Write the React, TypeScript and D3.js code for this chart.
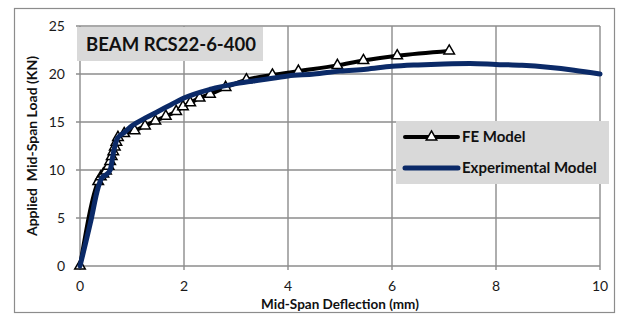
import React, { useEffect, useRef } from "react";
import * as d3 from "d3";

// FE model (black line with open triangle markers)
const feX = [0, 0.35, 0.4, 0.45, 0.5, 0.55, 0.58, 0.61, 0.64, 0.67, 0.7, 0.73, 0.85, 1.05, 1.25, 1.45, 1.65, 1.85, 1.98, 2.12, 2.3, 2.5, 2.8, 3.2, 3.7, 4.2, 4.95, 5.45, 6.1, 7.1];
const feY = [0, 8.8, 9.3, 9.6, 9.9, 10.4, 10.9, 11.4, 11.9, 12.4, 12.9, 13.4, 13.8, 14.1, 14.6, 15.1, 15.6, 16.1, 16.6, 17.0, 17.5, 17.9, 18.6, 19.4, 19.9, 20.3, 20.9, 21.4, 21.9, 22.4];

// Experimental model (navy smooth line)
const expX = [0, 0.2, 0.35, 0.42, 0.5, 0.58, 0.65, 0.72, 0.85, 1.0, 1.25, 1.5, 1.75, 2.0, 2.5, 3.0, 3.5, 4.0, 4.5, 5.0, 5.5, 6.0, 6.5, 7.0, 7.5, 8.0, 8.5, 9.0, 9.5, 10];
const expY = [0, 4.5, 8.2, 9.2, 9.5, 10.0, 12.0, 13.3, 13.9, 14.6, 15.4, 16.1, 16.8, 17.5, 18.4, 19.0, 19.4, 19.8, 20.0, 20.3, 20.5, 20.8, 20.95, 21.05, 21.1, 21.0, 20.9, 20.7, 20.4, 20.0];

const xTicks = [0, 2, 4, 6, 8, 10];
const yTicks = [0, 5, 10, 15, 20, 25];

const chartTitle = "BEAM RCS22-6-400";
const legendLabels = ["FE Model", "Experimental Model"];

const FONT = "Lato, 'Open Sans', sans-serif";
const NAVY = "#0b2a68";

const App: React.FC = () => {
  const svgRef = useRef<SVGSVGElement | null>(null);

  useEffect(() => {
    if (!svgRef.current) return;
    const width = 626;
    const height = 314;
    const margin = { top: 26, right: 26, bottom: 48, left: 80 };

    const root = d3.select(svgRef.current);
    root.selectAll("*").remove();
    root.attr("width", width).attr("height", height);

    // outer chart border
    root
      .append("rect")
      .attr("x", 14.5)
      .attr("y", 8.5)
      .attr("width", 600)
      .attr("height", 304)
      .attr("fill", "white")
      .attr("stroke", "#8c8c8c")
      .attr("stroke-width", 1.2);

    const xScale = d3.scaleLinear().domain([0, 10]).range([margin.left, width - margin.right]);
    const yScale = d3.scaleLinear().domain([0, 25]).range([height - margin.bottom, margin.top]);

    const g = root.append("g");

    // gridlines
    g.selectAll(".vgrid")
      .data(xTicks)
      .enter()
      .append("line")
      .attr("x1", (d) => xScale(d))
      .attr("x2", (d) => xScale(d))
      .attr("y1", yScale(25))
      .attr("y2", yScale(0) + 4)
      .attr("stroke", "#8c8c8c")
      .attr("stroke-width", 1.4);

    g.selectAll(".hgrid")
      .data(yTicks)
      .enter()
      .append("line")
      .attr("x1", xScale(0) - 4)
      .attr("x2", xScale(10))
      .attr("y1", (d) => yScale(d))
      .attr("y2", (d) => yScale(d))
      .attr("stroke", "#8c8c8c")
      .attr("stroke-width", 1.4);

    // tick labels
    g.selectAll(".xlab")
      .data(xTicks)
      .enter()
      .append("text")
      .attr("x", (d) => xScale(d))
      .attr("y", yScale(0) + 25)
      .attr("text-anchor", "middle")
      .attr("font-family", FONT)
      .attr("font-size", 14)
      .attr("fill", "#1a1a1a")
      .text((d) => d);

    g.selectAll(".ylab")
      .data(yTicks)
      .enter()
      .append("text")
      .attr("x", xScale(0) - 15)
      .attr("y", (d) => yScale(d) + 5)
      .attr("text-anchor", "end")
      .attr("font-family", FONT)
      .attr("font-size", 14)
      .attr("fill", "#1a1a1a")
      .text((d) => d);

    // axis titles
    g.append("text")
      .attr("x", 340)
      .attr("y", 308.5)
      .attr("text-anchor", "middle")
      .attr("font-family", FONT)
      .attr("font-weight", "bold")
      .attr("font-size", 13.5)
      .attr("fill", "#111")
      .text("Mid-Span Deflection (mm)");

    g.append("text")
      .attr("transform", `translate(37,146) rotate(-90)`)
      .attr("text-anchor", "middle")
      .attr("font-family", FONT)
      .attr("font-weight", "bold")
      .attr("font-size", 14)
      .attr("fill", "#111")
      .style("white-space", "pre")
      .text("Applied  Mid-Span Load (KN)");

    // title box
    g.append("rect")
      .attr("x", 77)
      .attr("y", 27)
      .attr("width", 186)
      .attr("height", 34)
      .attr("fill", "#d9d9d9");
    g.append("text")
      .attr("x", 171)
      .attr("y", 50.5)
      .attr("text-anchor", "middle")
      .attr("font-family", FONT)
      .attr("font-weight", "bold")
      .attr("font-size", 18.5)
      .attr("fill", "#111")
      .text(chartTitle);

    const feData = feX.map((x, i) => [x, feY[i]] as [number, number]);
    const expData = expX.map((x, i) => [x, expY[i]] as [number, number]);

    const line = d3
      .line<[number, number]>()
      .x((d) => xScale(d[0]))
      .y((d) => yScale(d[1]));

    const tri = d3.symbol().type(d3.symbolTriangle).size(48);

    // FE line
    g.append("path")
      .datum(feData)
      .attr("fill", "none")
      .attr("stroke", "black")
      .attr("stroke-width", 4)
      .attr("stroke-linejoin", "round")
      .attr("d", line.curve(d3.curveMonotoneX));

    g.selectAll(".fe-marker")
      .data(feData)
      .enter()
      .append("path")
      .attr("transform", (d) => `translate(${xScale(d[0])},${yScale(d[1])})`)
      .attr("d", tri)
      .attr("fill", "white")
      .attr("stroke", "black")
      .attr("stroke-width", 1.5);

    // experimental line on top
    g.append("path")
      .datum(expData)
      .attr("fill", "none")
      .attr("stroke", NAVY)
      .attr("stroke-width", 5)
      .attr("stroke-linejoin", "round")
      .attr("stroke-linecap", "round")
      .attr("d", line.curve(d3.curveMonotoneX));

    // legend
    const lg = g.append("g").attr("transform", "translate(396,121)");
    lg.append("rect").attr("width", 213).attr("height", 63).attr("fill", "#d9d9d9");
    lg.append("line")
      .attr("x1", 9)
      .attr("x2", 62)
      .attr("y1", 16)
      .attr("y2", 16)
      .attr("stroke", "black")
      .attr("stroke-width", 4)
      .attr("stroke-linecap", "round");
    lg.append("path")
      .attr("transform", "translate(35.5,16)")
      .attr("d", tri)
      .attr("fill", "white")
      .attr("stroke", "black")
      .attr("stroke-width", 1.5);
    lg.append("line")
      .attr("x1", 9)
      .attr("x2", 62)
      .attr("y1", 47)
      .attr("y2", 47)
      .attr("stroke", NAVY)
      .attr("stroke-width", 5)
      .attr("stroke-linecap", "round");
    lg.selectAll(".leg-text")
      .data(legendLabels)
      .enter()
      .append("text")
      .attr("x", 66)
      .attr("y", (_, i) => 21 + i * 31)
      .attr("font-family", FONT)
      .attr("font-weight", "bold")
      .attr("font-size", 15)
      .attr("fill", "#111")
      .text((d) => d);
  }, []);

  return (
    <div style={{ position: "absolute", left: 0, top: 0 }}>
      <svg ref={svgRef} style={{ display: "block" }} />
    </div>
  );
};

export default App;
